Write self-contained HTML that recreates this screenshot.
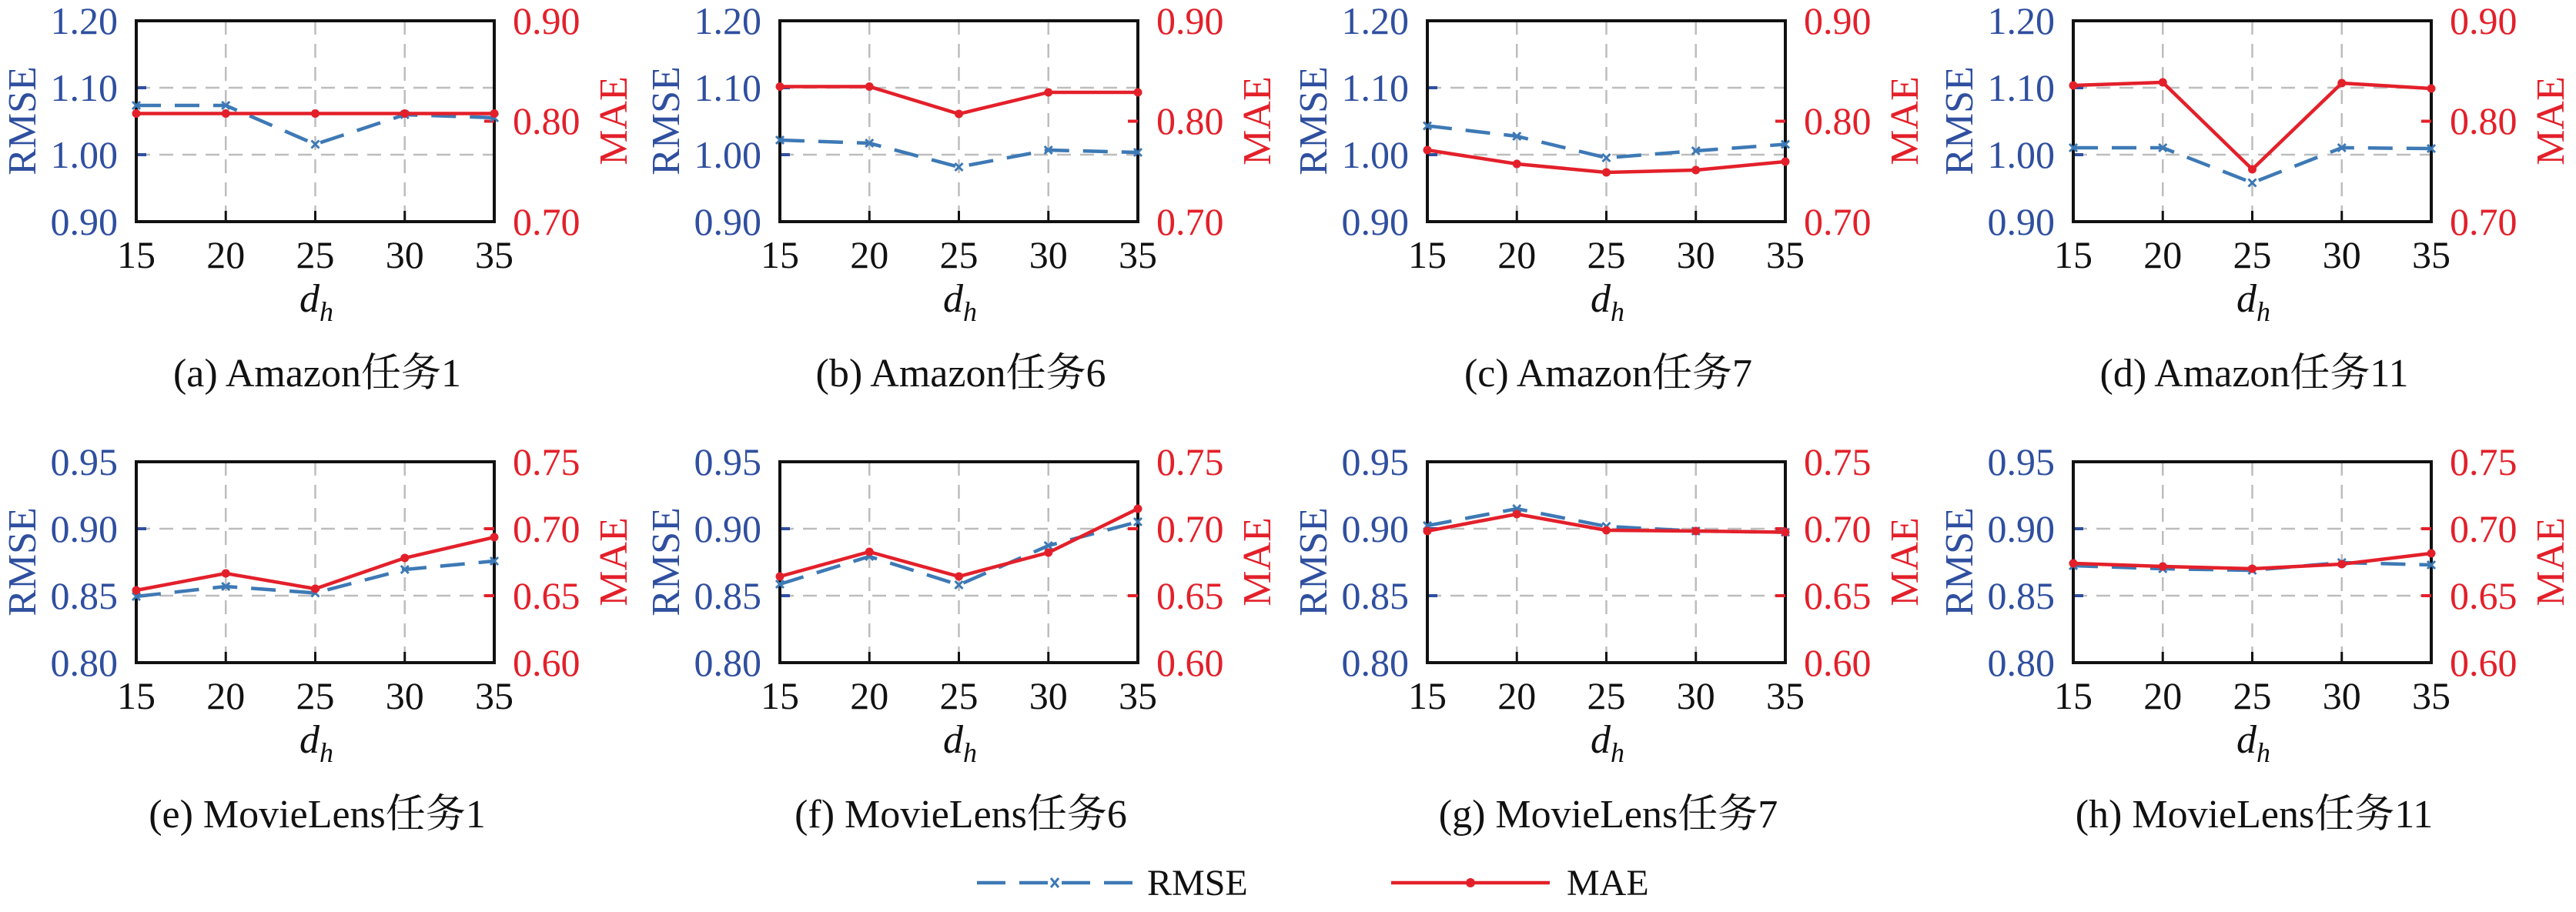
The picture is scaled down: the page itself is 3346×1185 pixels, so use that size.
<!DOCTYPE html>
<html><head><meta charset="utf-8"><style>
html,body{margin:0;padding:0;background:#fff;}
svg{display:block;font-family:"Liberation Serif","Times New Roman","Noto Serif CJK SC",serif;}
svg text{font-family:"Liberation Serif","Times New Roman","Noto Serif CJK SC",serif;}
.tl{font-size:50px;fill:#2f4f9f;text-anchor:end;}
.tr{font-size:50px;fill:#e3202a;text-anchor:start;}
.tx{font-size:50px;fill:#111;text-anchor:middle;}
.yl{font-size:52px;fill:#2f4f9f;text-anchor:middle;}
.yr{font-size:52px;fill:#e3202a;text-anchor:middle;}
.cap{font-size:52px;fill:#111;text-anchor:middle;}
.dh{font-size:52px;fill:#111;font-style:italic;}
.grid{stroke:#bdbdbd;stroke-width:2.5;stroke-dasharray:18,12;fill:none;}
.frame{fill:none;stroke:#111;stroke-width:4;}
.rm{fill:none;stroke:#3d79b5;stroke-width:4.5;stroke-dasharray:32,18;marker-start:url(#mx);marker-mid:url(#mx);marker-end:url(#mx);}
.ma{fill:none;stroke:#e3202a;stroke-width:4.5;marker-start:url(#md);marker-mid:url(#md);marker-end:url(#md);}
</style></head><body>
<svg width="3346" height="1185" viewBox="0 0 3346 1185" xmlns="http://www.w3.org/2000/svg" font-family="Liberation Serif, Noto Serif CJK SC, serif">
<defs>
<marker id="mx" markerUnits="userSpaceOnUse" markerWidth="14" markerHeight="14" refX="7" refY="7" viewBox="0 0 14 14"><path d="M2,2 L12,12 M12,2 L2,12" stroke="#3d79b5" stroke-width="3"/></marker>
<marker id="md" markerUnits="userSpaceOnUse" markerWidth="14" markerHeight="14" refX="7" refY="7" viewBox="0 0 14 14"><circle cx="7" cy="7" r="5.5" fill="#e3202a"/></marker>
<g id="axes">
<path class="grid" d="M0,87H465M0,174H465M116.25,0V261M232.5,0V261M348.75,0V261"/>
<path d="M0,87h13M0,174h13" stroke="#2f4f9f" stroke-width="4"/>
<path d="M116.25,261v-14M232.5,261v-14M348.75,261v-14" stroke="#111" stroke-width="3"/>
<rect class="frame" x="0" y="0" width="465" height="261"/>
<text class="tx" x="0" y="321">15</text><text class="tx" x="116.25" y="321">20</text><text class="tx" x="232.5" y="321">25</text><text class="tx" x="348.75" y="321">30</text><text class="tx" x="465" y="321">35</text>
<text class="yl" transform="translate(-131,130) rotate(-90)">RMSE</text>
<text class="yr" transform="translate(637,130) rotate(-90)">MAE</text>
<text class="dh" x="212" y="378">d<tspan font-size="36" dy="12">h</tspan></text>
</g>
</defs>

<g transform="translate(177,27)">
<use href="#axes"/>
<path d="M465,130.5h-13" stroke="#e3202a" stroke-width="4"/>
<text class="tl" x="-24" y="17">1.20</text><text class="tl" x="-24" y="104">1.10</text><text class="tl" x="-24" y="191">1.00</text><text class="tl" x="-24" y="278">0.90</text>
<text class="tr" x="489" y="17">0.90</text><text class="tr" x="489" y="147">0.80</text><text class="tr" x="489" y="278">0.70</text>
<polyline class="rm" points="0,110 116.25,110 232.5,160.5 348.75,122 465,126"/>
<polyline class="ma" points="0,120.5 116.25,120.5 232.5,120.5 348.75,120.5 465,120.5"/>
<text class="cap" x="235" y="475">(a)  Amazon任务1</text>
</g>
<g transform="translate(1013,27)">
<use href="#axes"/>
<path d="M465,130.5h-13" stroke="#e3202a" stroke-width="4"/>
<text class="tl" x="-24" y="17">1.20</text><text class="tl" x="-24" y="104">1.10</text><text class="tl" x="-24" y="191">1.00</text><text class="tl" x="-24" y="278">0.90</text>
<text class="tr" x="489" y="17">0.90</text><text class="tr" x="489" y="147">0.80</text><text class="tr" x="489" y="278">0.70</text>
<polyline class="rm" points="0,155 116.25,159 232.5,190 348.75,168 465,171"/>
<polyline class="ma" points="0,85.5 116.25,85.5 232.5,121 348.75,93 465,93"/>
<text class="cap" x="235" y="475">(b)  Amazon任务6</text>
</g>
<g transform="translate(1854,27)">
<use href="#axes"/>
<path d="M465,130.5h-13" stroke="#e3202a" stroke-width="4"/>
<text class="tl" x="-24" y="17">1.20</text><text class="tl" x="-24" y="104">1.10</text><text class="tl" x="-24" y="191">1.00</text><text class="tl" x="-24" y="278">0.90</text>
<text class="tr" x="489" y="17">0.90</text><text class="tr" x="489" y="147">0.80</text><text class="tr" x="489" y="278">0.70</text>
<polyline class="rm" points="0,136.5 116.25,150 232.5,178 348.75,169 465,160.5"/>
<polyline class="ma" points="0,168 116.25,186 232.5,197 348.75,194 465,183"/>
<text class="cap" x="235" y="475">(c)  Amazon任务7</text>
</g>
<g transform="translate(2693,27)">
<use href="#axes"/>
<path d="M465,130.5h-13" stroke="#e3202a" stroke-width="4"/>
<text class="tl" x="-24" y="17">1.20</text><text class="tl" x="-24" y="104">1.10</text><text class="tl" x="-24" y="191">1.00</text><text class="tl" x="-24" y="278">0.90</text>
<text class="tr" x="489" y="17">0.90</text><text class="tr" x="489" y="147">0.80</text><text class="tr" x="489" y="278">0.70</text>
<polyline class="rm" points="0,165 116.25,165 232.5,210.5 348.75,165 465,166"/>
<polyline class="ma" points="0,84 116.25,80 232.5,193 348.75,81 465,88"/>
<text class="cap" x="235" y="475">(d)  Amazon任务11</text>
</g>

<g transform="translate(177,600)">
<use href="#axes"/>
<path d="M465,87h-13M465,174h-13" stroke="#e3202a" stroke-width="4"/>
<text class="tl" x="-24" y="17">0.95</text><text class="tl" x="-24" y="104">0.90</text><text class="tl" x="-24" y="191">0.85</text><text class="tl" x="-24" y="278">0.80</text>
<text class="tr" x="489" y="17">0.75</text><text class="tr" x="489" y="104">0.70</text><text class="tr" x="489" y="191">0.65</text><text class="tr" x="489" y="278">0.60</text>
<polyline class="rm" points="0,175 116.25,162 232.5,170.5 348.75,140 465,129"/>
<polyline class="ma" points="0,167 116.25,145 232.5,165 348.75,125 465,98"/>
<text class="cap" x="235" y="475">(e)  MovieLens任务1</text>
</g>
<g transform="translate(1013,600)">
<use href="#axes"/>
<path d="M465,87h-13M465,174h-13" stroke="#e3202a" stroke-width="4"/>
<text class="tl" x="-24" y="17">0.95</text><text class="tl" x="-24" y="104">0.90</text><text class="tl" x="-24" y="191">0.85</text><text class="tl" x="-24" y="278">0.80</text>
<text class="tr" x="489" y="17">0.75</text><text class="tr" x="489" y="104">0.70</text><text class="tr" x="489" y="191">0.65</text><text class="tr" x="489" y="278">0.60</text>
<polyline class="rm" points="0,159 116.25,123 232.5,160 348.75,109 465,78"/>
<polyline class="ma" points="0,149 116.25,117 232.5,149 348.75,118 465,61"/>
<text class="cap" x="235" y="475">(f)  MovieLens任务6</text>
</g>
<g transform="translate(1854,600)">
<use href="#axes"/>
<path d="M465,87h-13M465,174h-13" stroke="#e3202a" stroke-width="4"/>
<text class="tl" x="-24" y="17">0.95</text><text class="tl" x="-24" y="104">0.90</text><text class="tl" x="-24" y="191">0.85</text><text class="tl" x="-24" y="278">0.80</text>
<text class="tr" x="489" y="17">0.75</text><text class="tr" x="489" y="104">0.70</text><text class="tr" x="489" y="191">0.65</text><text class="tr" x="489" y="278">0.60</text>
<polyline class="rm" points="0,83 116.25,61 232.5,84 348.75,90 465,91.5"/>
<polyline class="ma" points="0,90 116.25,68 232.5,89 348.75,90 465,91.5"/>
<text class="cap" x="235" y="475">(g)  MovieLens任务7</text>
</g>
<g transform="translate(2693,600)">
<use href="#axes"/>
<path d="M465,87h-13M465,174h-13" stroke="#e3202a" stroke-width="4"/>
<text class="tl" x="-24" y="17">0.95</text><text class="tl" x="-24" y="104">0.90</text><text class="tl" x="-24" y="191">0.85</text><text class="tl" x="-24" y="278">0.80</text>
<text class="tr" x="489" y="17">0.75</text><text class="tr" x="489" y="104">0.70</text><text class="tr" x="489" y="191">0.65</text><text class="tr" x="489" y="278">0.60</text>
<polyline class="rm" points="0,135 116.25,139 232.5,141 348.75,131 465,134"/>
<polyline class="ma" points="0,132 116.25,136 232.5,139 348.75,133 465,119"/>
<text class="cap" x="235" y="475">(h)  MovieLens任务11</text>
</g>

<path d="M1269,1147H1471" stroke="#3d79b5" stroke-width="4.5" stroke-dasharray="37,18" fill="none"/>
<path d="M1365,1141l10,12M1375,1141l-10,12" stroke="#3d79b5" stroke-width="3"/>
<text x="1490" y="1163" font-size="48" fill="#111">RMSE</text>
<path d="M1807,1147H2013" stroke="#e3202a" stroke-width="4.5" fill="none"/>
<circle cx="1910" cy="1147" r="6" fill="#e3202a"/>
<text x="2035" y="1163" font-size="48" fill="#111">MAE</text>
</svg>
</body></html>
